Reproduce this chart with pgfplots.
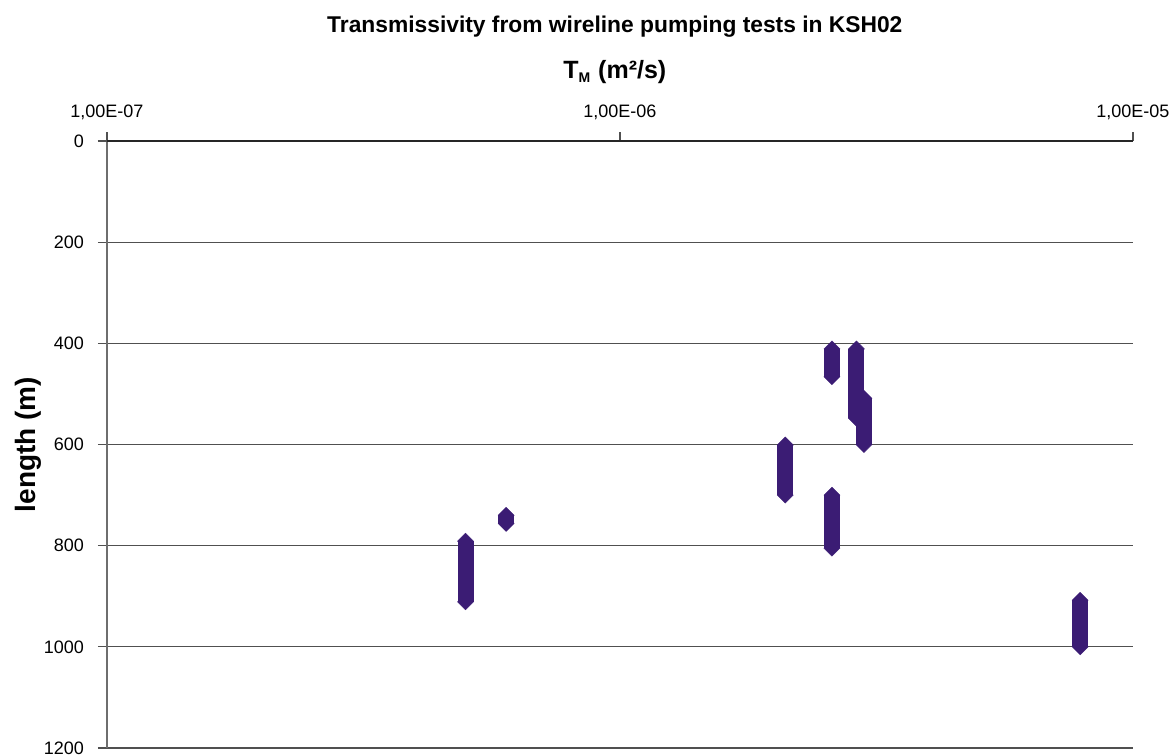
\documentclass[border=0pt]{standalone}
\usepackage{pgfplots}
\pgfplotsset{compat=1.18}
\usepackage{fontspec}
\setmainfont{Liberation Sans}
\definecolor{bar}{RGB}{59,28,116}
\definecolor{gridc}{RGB}{80,80,80}
\definecolor{axisc}{RGB}{110,110,110}
\begin{document}
\begin{tikzpicture}
\useasboundingbox (0,0) rectangle (586.5bp,378bp);
\begin{axis}[
  at={(53.5bp,4bp)}, anchor=south west,
  scale only axis, width=513bp, height=303.5bp,
  xmode=log, xmin=1e-7, xmax=1e-5,
  ymin=0, ymax=1200, y dir=reverse,
  axis line style={draw=none},
  xtick={1e-7,1e-6,1e-5},
  xticklabels={{1,00E-07},{1,00E-06},{1,00E-05}},
  xminorticks=false,
  xtick pos=upper, xticklabel pos=upper,
  ytick={0,200,400,600,800,1000,1200},
  yticklabels={0,200,400,600,800,1000,1200},
  ytick pos=left,
  tick align=outside,
  major tick length=4.5bp,
  tick style={gridc, line width=0.6bp},
  ymajorgrids, major grid style={gridc, line width=0.6bp},
  extra x ticks={1e-7}, extra x tick labels={},
  extra x tick style={xmajorgrids=true, major grid style={axisc, line width=1.1bp}},
  extra y ticks={0}, extra y tick labels={},
  extra y tick style={major grid style={black!85, line width=1.1bp}},
  ticklabel style={font=\fontsize{9bp}{10bp}\selectfont},
  yticklabel style={xshift=-3.5bp},
  xticklabel style={yshift=2.5bp},
  every axis title shift=0pt,
  title={Transmissivity from wireline pumping tests in KSH02},
  title style={font=\bfseries\fontsize{11.4bp}{13bp}\selectfont, at={(axis description cs:0.495,1.1878)}, anchor=center},
  xlabel={T\textsubscript{\fontsize{7bp}{8bp}\selectfont M} (m²/s)},
  xlabel style={font=\bfseries\fontsize{12.5bp}{14bp}\selectfont, at={(axis description cs:0.495,1.1137)}, anchor=center},
  ylabel={length (m)},
  every axis y label/.style={font=\bfseries\fontsize{14bp}{16bp}\selectfont, at={(axis description cs:-0.077,0.5)}, rotate=90, anchor=center},
  clip=false,
  tbar/.style={bar, solid, line width=8bp, mark=square*, mark size=2.83bp, mark options={solid, fill=bar, draw=bar, line width=0.2bp, rotate=45}},
]
\addplot[tbar] coordinates {(5.0e-7,791) (5.0e-7,911)};
\addplot[tbar] coordinates {(6.0e-7,740) (6.0e-7,756)};
\addplot[tbar] coordinates {(2.59e-6,411) (2.59e-6,466)};
\addplot[tbar] coordinates {(2.89e-6,411) (2.89e-6,548)};
\addplot[tbar] coordinates {(2.99e-6,509) (2.99e-6,600)};
\addplot[tbar] coordinates {(2.10e-6,601) (2.10e-6,700)};
\addplot[tbar] coordinates {(2.59e-6,700) (2.59e-6,805)};
\addplot[tbar] coordinates {(7.89e-6,908) (7.89e-6,1000)};
\end{axis}
\end{tikzpicture}
\end{document}
